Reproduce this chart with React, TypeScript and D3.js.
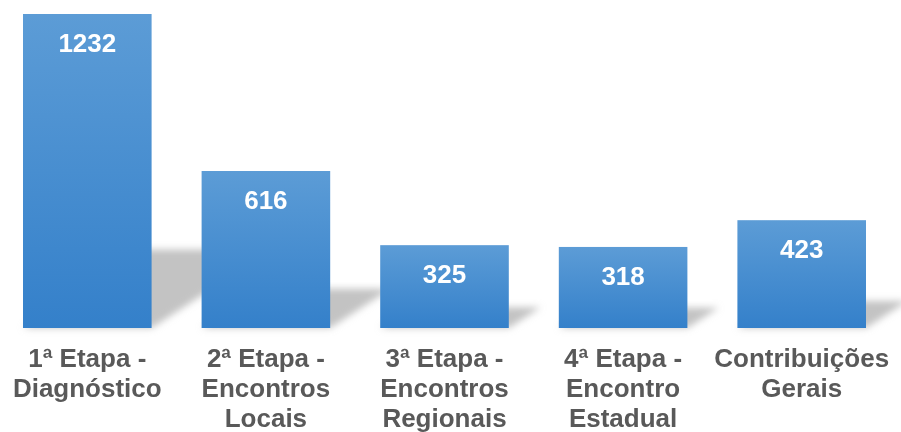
import React from "react";
import * as d3 from "d3";

const categories: string[][] = [
  ["1ª Etapa -", "Diagnóstico"],
  ["2ª Etapa -", "Encontros", "Locais"],
  ["3ª Etapa -", "Encontros", "Regionais"],
  ["4ª Etapa -", "Encontro", "Estadual"],
  ["Contribuições", "Gerais"],
];
const values: number[] = [1232, 616, 325, 318, 423];

const W = 901;
const H = 432;

export default function App() {
  const x = d3
    .scaleBand<number>()
    .domain(values.map((_, i) => i))
    .range([-2, 891])
    .paddingInner(0.28)
    .paddingOuter(0.14);
  const y = d3.scaleLinear().domain([0, 1232]).range([328, 14]);
  const bw = x.bandwidth();
  const font = "'Liberation Sans', Arial, sans-serif";

  return (
    <svg
      width={W}
      height={H}
      style={{ position: "absolute", left: 0, top: 0, background: "#fff" }}
      fontFamily={font}
    >
      <defs>
        <linearGradient id="barGrad" x1="0" y1="0" x2="0" y2="1">
          <stop offset="0%" stopColor="rgb(92,156,214)" />
          <stop offset="100%" stopColor="rgb(52,128,202)" />
        </linearGradient>
        <filter id="shadowBlur" x="-50%" y="-50%" width="200%" height="200%">
          <feGaussianBlur stdDeviation="3.5" />
        </filter>
      </defs>
      <g filter="url(#shadowBlur)">
        {values.map((v, i) => {
          const x0 = x(i)!;
          const x1 = x0 + bw;
          const b = y(0);
          const h = y(0) - y(v);
          const sh = h * 0.25;
          const k = sh / 0.65;
          const pts = [
            [x0, b],
            [x1, b],
            [x1 + k, b - sh],
            [x0 + k, b - sh],
          ];
          return (
            <polygon
              key={i}
              points={pts.map((p) => p.join(",")).join(" ")}
              fill="rgb(185,185,185)"
              opacity={0.85}
            />
          );
        })}
      </g>
      {values.map((v, i) => (
        <rect
          key={i}
          x={x(i)}
          y={y(v)}
          width={bw}
          height={y(0) - y(v)}
          fill="url(#barGrad)"
        />
      ))}
      {values.map((v, i) => (
        <text
          key={i}
          x={x(i)! + bw / 2}
          y={y(v) + 38}
          textAnchor="middle"
          fill="#fff"
          fontWeight="bold"
          fontSize={26}
        >
          {v}
        </text>
      ))}
      {categories.map((lines, i) => (
        <text
          key={i}
          x={x(i)! + bw / 2}
          y={367}
          textAnchor="middle"
          fill="#595959"
          fontWeight="bold"
          fontSize={26}
        >
          {lines.map((l, j) => (
            <tspan key={j} x={x(i)! + bw / 2} y={367 + j * 30}>
              {l}
            </tspan>
          ))}
        </text>
      ))}
    </svg>
  );
}
